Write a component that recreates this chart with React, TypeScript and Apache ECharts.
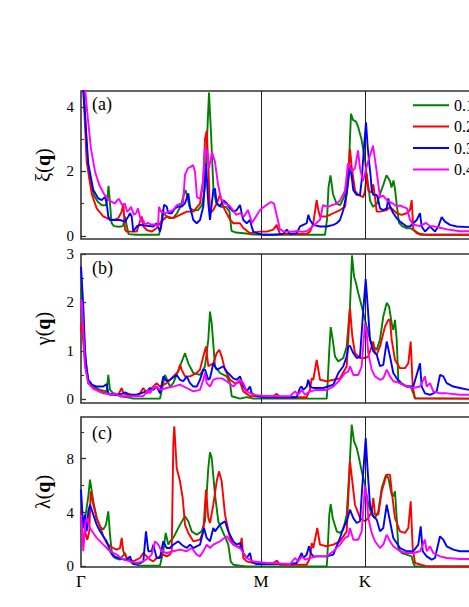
import React, { useEffect, useRef } from "react";
import * as echarts from "echarts";

// ---------- data ----------
const seriesNames = ["0.1", "0.2", "0.3", "0.4"];
const seriesColors = ["#008000", "#ff0000", "#0000ff", "#ff00ff"];

// high-symmetry points along the path (q-index units); path ends at Γ = 492 (outside the visible crop)
const xTickValues = [0, 180, 284];
const xTickLabels = ["Γ", "M", "K"];
const xMax = 492;

// panel (a) ξ(q)
const xi01 = [[0, 9], [3, 4.5], [6, 2.5], [9, 1.7], [13, 1.25], [17, 1.05], [21, 0.95], [25, 0.95], [26.5, 1.2], [27.5, 1.55], [28.5, 1.2], [30.5, 0.4], [33, 0.3], [38, 0.28], [42, 0.3], [44, 0.6], [45.5, 0.35], [47.5, 0.05], [55, 0.03], [65, 0.03], [78, 0.03], [80, 0.3], [81.5, 0.8], [84, 0.65], [88, 0.55], [92, 0.55], [96, 0.7], [100, 0.95], [103, 1.3], [104.5, 1.42], [106.5, 1.2], [109, 0.85], [113, 0.78], [117, 0.8], [121, 0.95], [124, 1.5], [126, 3.0], [128, 4.45], [130, 3.2], [132.5, 1.4], [135.5, 1.0], [140, 0.9], [145, 0.9], [148.5, 0.75], [150.5, 0.15], [155, 0.1], [165, 0.07], [172, 0.04], [185, 0.03], [244, 0.03], [246, 0.5], [247.5, 1.5], [249.5, 1.88], [252, 1.3], [255.5, 1.0], [259, 0.95], [263, 1.2], [266, 1.7], [268, 2.3], [270, 3.79], [272, 3.6], [275, 3.55], [277, 3.4], [280.5, 3.0], [284, 2.35], [286, 1.8], [288, 1.4], [289, 1.1], [292, 0.9], [296, 1.0], [299, 1.3], [302.5, 1.6], [305.5, 1.88], [309, 1.7], [310.5, 1.5], [312.5, 1.72], [314, 1.45], [316, 0.9], [318, 0.4], [321, 0.3], [326, 0.23], [330, 0.23], [335, 0.13], [339, 0.03], [388, 0.03]];
const xi02 = [[0, 9], [2, 4.8], [5.7, 2.3], [10.7, 1.3], [15.7, 0.85], [22.3, 0.6], [29, 0.5], [34, 0.5], [37.3, 0.55], [40.7, 0.75], [42.3, 1.0], [44, 0.2], [45.7, 0.13], [55.7, 0.13], [57.3, 0.29], [60.7, 0.6], [62.3, 0.29], [65.7, 0.18], [70.7, 0.13], [75.7, 0.24], [79, 0.39], [82.3, 0.5], [85.7, 0.6], [92.3, 0.55], [99, 0.65], [105.7, 0.75], [112.3, 0.75], [119, 1.0], [122.3, 1.7], [124, 3.0], [125.7, 3.27], [127.3, 2.2], [129, 0.7], [132.3, 0.8], [135.7, 1.0], [139, 1.27], [140.7, 1.1], [142.3, 0.9], [145.7, 0.7], [149, 0.5], [152.3, 0.39], [159, 0.39], [162.3, 0.24], [169, 0.08], [179, 0.13], [185.7, 0.13], [192.3, 0.19], [195.7, 0.34], [197.3, 0.19], [199, 0.06], [225.7, 0.06], [229, 0.13], [232.3, 0.39], [235.7, 1.11], [237.3, 0.8], [239, 0.6], [245.7, 0.6], [252.3, 0.7], [259, 0.8], [264, 0.9], [267.3, 1.73], [269, 2.7], [270.7, 2.14], [274, 1.4], [277.3, 1.27], [282.3, 1.2], [284, 1.4], [285.7, 1.93], [287.3, 1.4], [290.7, 1.35], [292.3, 1.6], [294, 1.2], [295.7, 0.75], [299, 0.75], [305.7, 0.8], [309, 0.9], [312.3, 0.8], [315.7, 0.7], [320.7, 0.65], [325.7, 0.7], [329, 0.8], [330.7, 1.11], [332.3, 0.19], [335.7, 0.08], [345.7, 0.03], [388, 0.03]];
const xi03 = [[0, 9], [1.7, 4.8], [7.3, 2.24], [12.3, 1.42], [17.3, 1.16], [20.7, 1.11], [24, 1.21], [25.7, 1.01], [27.3, 0.6], [29, 0.49], [32.3, 0.49], [39, 0.49], [44, 0.44], [47.3, 0.6], [49, 0.7], [50.7, 0.6], [52.3, 0.13], [55.7, 0.29], [59, 0.34], [65.7, 0.31], [72.3, 0.29], [75.7, 0.39], [79, 0.13], [81.3, 0.49], [83, 0.96], [85.7, 0.91], [87.3, 0.7], [90.7, 0.7], [94, 0.85], [97.3, 0.91], [100.7, 0.91], [104, 1.01], [107.3, 1.32], [109, 0.91], [112.3, 0.49], [115.7, 0.39], [119, 0.49], [122.3, 0.91], [125, 2.24], [127.3, 1.01], [129, 0.49], [132.3, 1.42], [134, 1.47], [135.7, 1.01], [139, 0.91], [142.3, 1.11], [145.7, 1.01], [149, 0.85], [152.3, 0.75], [155.7, 0.8], [159, 0.96], [160.7, 0.7], [162.3, 0.49], [165.7, 0.39], [169, 0.49], [170.7, 0.29], [172.3, 0.13], [175.7, 0.08], [182.3, 0.03], [192.3, 0.03], [202.3, 0.06], [205.7, 0.19], [209, 0.06], [215.7, 0.08], [219, 0.29], [222.3, 0.34], [225.7, 0.39], [227.3, 0.65], [229, 0.49], [232.3, 0.34], [239, 0.29], [245.7, 0.29], [252.3, 0.34], [255.7, 0.39], [259, 0.49], [262.3, 0.8], [265.7, 1.32], [269, 2.19], [270.7, 1.83], [272.3, 1.42], [275.7, 1.27], [279, 1.27], [280.7, 1.73], [283, 2.76], [285, 3.53], [286.7, 2.76], [288.3, 2.24], [289.7, 1.83], [290.7, 1.42], [292.3, 1.27], [295.7, 1.27], [297.3, 1.11], [299, 0.85], [302.3, 0.8], [305.7, 0.85], [307.3, 1.16], [309, 0.91], [312.3, 0.7], [315.7, 0.55], [319, 0.44], [325.7, 0.29], [329, 0.29], [332.3, 0.39], [335.7, 0.49], [339, 0.7], [340.7, 0.29], [344, 0.13], [349, 0.29], [354, 0.13], [357.3, 0.29], [360.7, 0.58], [364, 0.44], [369, 0.34], [375.7, 0.29], [388, 0.27]];
const xi04 = [[0, 9], [4, 4.6], [7, 3.6], [10, 2.7], [14, 2.0], [18, 1.6], [23, 1.3], [28, 1.1], [34, 1.0], [36, 1.1], [38, 1.15], [41, 0.95], [44, 1.0], [46, 0.75], [48, 0.8], [50, 0.9], [53, 0.65], [55, 0.7], [57, 0.85], [60, 0.45], [62, 0.5], [64, 0.35], [67, 0.4], [70, 0.35], [74, 0.35], [77, 0.3], [78, 0.9], [80, 0.75], [84, 0.7], [88, 0.75], [92, 0.8], [96, 0.95], [100, 1.0], [102, 1.0], [104, 1.9], [107, 2.1], [110, 2.15], [112, 2.2], [114, 2.0], [116, 1.2], [119, 1.15], [122, 1.7], [124, 2.75], [126, 2.6], [128, 2.1], [131, 2.6], [134, 2.3], [137, 1.6], [140, 1.15], [144, 1.0], [148, 0.95], [152, 0.8], [155, 0.65], [159, 0.7], [163, 0.6], [167, 0.8], [171, 0.4], [175, 0.6], [179, 0.8], [185, 0.95], [190, 1.05], [193, 1.0], [196, 0.6], [199, 0.2], [203, 0.13], [210, 0.13], [217, 0.15], [221, 0.12], [226, 0.15], [232, 0.3], [239, 0.5], [242, 0.95], [247, 0.9], [251, 0.95], [256, 1.0], [259, 1.1], [264, 1.4], [267, 2.25], [271, 2.0], [274, 2.1], [277, 2.65], [279, 2.1], [282, 1.7], [286, 2.2], [289, 2.5], [292, 2.8], [295, 2.15], [299, 1.2], [302, 1.25], [306, 1.1], [312, 1.0], [316, 0.9], [319, 0.95], [322, 0.9], [326, 0.85], [329, 0.5], [332, 0.35], [339, 0.3], [345, 0.4], [349, 0.3], [352, 0.3], [359, 0.25], [366, 0.2], [379, 0.14], [388, 0.14]];

// panel (b) γ(q)
const ga01 = [[0, 2.3], [0.7, 2.26], [4, 0.88], [7.3, 0.4], [12.3, 0.26], [19, 0.19], [25.7, 0.16], [27.3, 0.5], [29, 0.19], [32.3, 0.12], [39, 0.06], [45.7, 0.04], [52.3, 0.01], [79, 0.01], [84, 0.5], [89, 0.26], [92.3, 0.33], [99, 0.68], [104, 0.95], [107.3, 0.74], [112.3, 0.54], [119, 0.5], [124, 0.68], [127.3, 1.23], [129, 1.81], [130.7, 1.57], [134, 0.68], [139, 0.54], [145.7, 0.47], [149, 0.33], [150.7, 0.06], [159, 0.01], [165.7, 0.04], [172.3, 0.01], [245.7, 0.01], [246.3, 0.19], [248.3, 1.02], [249.7, 1.49], [251.7, 1.23], [254, 0.88], [257.3, 0.78], [262.3, 0.85], [265.7, 1.09], [269, 1.92], [271, 2.97], [273, 2.54], [275, 2.4], [277.3, 2.19], [280.7, 1.92], [284, 1.64], [285.7, 1.5], [289, 1.23], [292.3, 1.09], [295.7, 1.02], [299, 1.23], [302.3, 1.71], [305.7, 1.99], [308, 1.92], [310.7, 1.57], [312.3, 1.43], [314, 1.64], [315.7, 1.23], [317.3, 0.4], [320.7, 0.33], [325.7, 0.26], [329.7, 0.26], [332.3, 0.12], [334, 0.01], [388, 0.01]];
const ga02 = [[0, 1.4], [0.7, 1.57], [4, 0.74], [7.3, 0.33], [12.3, 0.23], [19, 0.16], [25.7, 0.12], [37.3, 0.09], [40.7, 0.23], [42.3, 0.12], [45.7, 0.09], [52.3, 0.06], [59, 0.12], [62.3, 0.23], [65.7, 0.12], [69, 0.19], [72.3, 0.26], [75.7, 0.33], [79, 0.26], [85.7, 0.33], [92.3, 0.47], [97.3, 0.57], [99, 0.71], [100.7, 0.61], [104, 0.47], [109, 0.47], [115.7, 0.54], [119, 0.61], [122.3, 0.88], [125, 1.09], [127.3, 0.68], [132.3, 0.74], [135.7, 0.95], [138.3, 1.02], [140.7, 0.88], [144, 0.61], [149, 0.4], [154, 0.33], [159, 0.35], [162.3, 0.16], [169, 0.06], [192.3, 0.06], [195.7, 0.11], [199, 0.04], [225.7, 0.04], [229, 0.19], [230.7, 0.43], [232.3, 0.4], [235.7, 0.81], [239, 0.4], [245.7, 0.37], [259, 0.43], [265.7, 0.68], [269, 1.88], [271.3, 1.3], [274, 0.95], [279, 0.85], [284, 0.85], [287.3, 0.88], [290.7, 1.09], [292.3, 1.19], [294, 0.95], [295.7, 0.92], [299, 1.09], [304, 1.5], [307.3, 1.64], [309, 1.64], [310.7, 1.23], [314, 0.81], [319, 0.64], [324, 0.64], [327.3, 0.74], [329.7, 1.19], [331.7, 0.26], [334, 0.02], [388, 0.01]];
const ga03 = [[0, 2.74], [2.3, 1.92], [4, 1.02], [5.7, 0.61], [7.3, 0.4], [10.7, 0.3], [15.7, 0.26], [22.3, 0.26], [25.7, 0.31], [27.3, 0.12], [29, 0.09], [35.7, 0.09], [40.7, 0.11], [44, 0.14], [47.3, 0.11], [50.7, 0.09], [55.7, 0.09], [62.3, 0.14], [65.7, 0.16], [69, 0.23], [72.3, 0.19], [75.7, 0.26], [79, 0.12], [82.3, 0.47], [85.7, 0.37], [89, 0.4], [95.7, 0.5], [99, 0.4], [102.3, 0.37], [105.7, 0.47], [109, 0.33], [112.3, 0.26], [115.7, 0.26], [119, 0.4], [122.3, 0.61], [124, 0.61], [127.3, 0.4], [129, 0.43], [132.3, 0.74], [135.7, 0.61], [139, 0.64], [142.3, 0.68], [145.7, 0.57], [149, 0.5], [152.3, 0.43], [155.7, 0.4], [159, 0.47], [162.3, 0.26], [165.7, 0.16], [169, 0.26], [170.7, 0.12], [175.7, 0.06], [185.7, 0.04], [215.7, 0.04], [219, 0.23], [220.7, 0.26], [222.3, 0.19], [225.7, 0.26], [227.3, 0.4], [229, 0.26], [232.3, 0.23], [242.3, 0.23], [252.3, 0.3], [257.3, 0.54], [262.3, 0.68], [265.7, 0.88], [267.3, 1.09], [269, 1.1], [272.3, 0.95], [275.7, 0.85], [279, 0.88], [282.3, 1.85], [284.7, 2.48], [286.7, 1.92], [289, 1.23], [292.3, 0.99], [295.7, 0.92], [299, 0.68], [302.3, 0.71], [305.7, 1.19], [309, 0.88], [312.3, 0.54], [319, 0.33], [325.7, 0.26], [332.3, 0.26], [339, 0.74], [340.7, 0.26], [344, 0.12], [349, 0.09], [352.3, 0.12], [355.7, 0.16], [359, 0.5], [362.3, 0.47], [365.7, 0.33], [372.3, 0.26], [379, 0.23], [388, 0.19]];
const ga04 = [[0, 1.9], [0.7, 2.06], [4, 0.68], [7.3, 0.33], [12.3, 0.21], [22.3, 0.12], [32.3, 0.09], [34, 0.12], [39, 0.06], [52.3, 0.06], [62.3, 0.06], [67.3, 0.19], [69, 0.12], [72.3, 0.23], [75.7, 0.26], [79, 0.19], [85.7, 0.23], [92.3, 0.26], [99, 0.3], [105.7, 0.23], [112.3, 0.16], [119, 0.19], [122.3, 0.4], [124, 0.54], [125.7, 0.33], [129, 0.26], [132.3, 0.4], [135.7, 0.43], [140.7, 0.43], [145.7, 0.37], [152.3, 0.26], [159, 0.4], [162.3, 0.33], [165.7, 0.16], [172.3, 0.09], [185.7, 0.06], [209, 0.06], [214, 0.16], [217.3, 0.09], [220.7, 0.19], [224, 0.09], [229, 0.16], [235.7, 0.19], [245.7, 0.19], [252.3, 0.26], [259, 0.4], [264, 0.54], [267.3, 0.57], [269, 0.68], [272.3, 0.5], [277.3, 0.5], [280.7, 0.68], [284, 1.57], [285.7, 1.37], [287.3, 0.95], [290.7, 0.61], [294, 0.47], [299, 0.4], [302.3, 0.43], [305.7, 0.61], [309, 0.47], [312.3, 0.37], [319, 0.33], [325.7, 0.26], [332.3, 0.23], [339, 0.26], [344, 0.47], [345.7, 0.26], [349, 0.33], [352.3, 0.16], [359, 0.12], [365.7, 0.12], [379, 0.09], [388, 0.09]];

// panel (c) λ(q)
const la01 = [[0, 2.5], [4, 3.5], [7.3, 5.2], [9, 6.44], [12.3, 4.83], [15.7, 3.59], [19, 2.97], [22.3, 2.73], [25, 3.1], [27.3, 4.09], [29, 2.35], [30.7, 1.12], [34, 0.62], [39, 0.5], [44, 0.99], [45.7, 0.62], [49, 0.37], [52.3, 0.17], [59, 0.05], [79, 0.05], [82.3, 1.12], [84.7, 2.48], [87.3, 1.61], [89, 1.86], [92.3, 2.11], [99, 3.1], [104, 3.72], [107.3, 3.35], [110.7, 2.6], [115.7, 2.35], [120.7, 2.6], [124, 3.35], [127.3, 7.31], [129, 8.48], [130.7, 8.05], [134, 5.33], [137.3, 3.35], [142.3, 2.48], [147.3, 1.61], [149.7, 0.37], [152.3, 0.12], [159, 0.05], [165.7, 0], [245.7, 0], [246.3, 0.62], [248.3, 3.84], [249.7, 4.63], [251.7, 3.59], [255.7, 2.6], [259, 2.48], [262.3, 2.73], [265.7, 3.84], [268.3, 7.06], [270.7, 10.53], [273, 9.29], [275.7, 8.8], [277.3, 8.3], [280.7, 7.06], [284, 6.07], [287.3, 4.58], [290.7, 3.84], [294, 3.59], [297.3, 4.09], [300.7, 5.82], [305, 6.8], [307.3, 6.57], [310.7, 5.33], [312.3, 5.2], [314, 5.58], [315.7, 3.59], [317.3, 1.36], [320.7, 0.99], [325.7, 0.87], [330.7, 0.74], [332.3, 0.25], [334, 0], [388, 0]];
const la02 = [[0, 4.1], [2.3, 1.61], [4, 2.6], [6.3, 1.98], [8.3, 2.6], [9.7, 5.58], [12.3, 4.58], [15.7, 3.59], [19, 2.97], [22.3, 2.23], [25.7, 1.73], [29, 1.49], [32.3, 1.36], [35.7, 1.24], [39, 1.36], [40.7, 2.11], [42.3, 1.12], [45.7, 0.62], [49, 0.5], [52.3, 0.37], [59, 0.62], [62.3, 0.99], [65.7, 0.74], [69, 0.5], [72.3, 0.37], [75.7, 0.62], [79, 0.74], [82.3, 0.87], [85.7, 0.74], [89, 0.87], [90.7, 1.12], [92.3, 9.05], [93.3, 10.41], [95.7, 7.31], [99, 6.32], [101.7, 5.08], [104, 3.1], [107.3, 2.48], [112.3, 1.86], [119, 1.98], [122.3, 2.6], [125, 5.7], [127.3, 3.59], [129, 3.22], [132.3, 4.58], [135.7, 6.32], [138, 7.06], [140.7, 6.32], [144, 3.84], [149, 2.11], [152.3, 1.61], [159, 1.36], [160.7, 2.11], [162.3, 0.62], [165.7, 0.37], [175.7, 0.17], [192.3, 0.25], [195.7, 0.42], [199, 0.12], [225.7, 0.12], [229, 0.62], [230.7, 1.73], [232.3, 1.36], [236.3, 2.85], [239, 1.61], [245.7, 1.49], [252.3, 1.61], [259, 1.86], [265.7, 2.6], [269, 7.81], [271.3, 6.32], [274, 4.58], [279, 3.59], [284, 3.35], [287.3, 3.59], [290.7, 4.09], [292.3, 5.08], [294, 3.84], [297.3, 3.84], [300.7, 5.58], [305.7, 6.82], [309, 6.82], [310.7, 5.58], [314, 3.59], [319, 2.6], [324, 2.48], [327.3, 2.85], [329.7, 4.83], [331.7, 1.36], [334, 0.25], [345.7, 0], [388, 0]];
const la03 = [[0, 5.7], [2.3, 2.85], [4, 3.84], [5.7, 2.6], [7.3, 4.09], [9, 4.58], [12.3, 3.84], [15.7, 3.1], [19, 2.6], [22.3, 2.23], [25.7, 1.86], [29, 1.12], [32.3, 0.74], [35.7, 0.67], [39, 0.57], [45.7, 0.5], [49, 0.74], [50.7, 0.37], [52.3, 0.17], [59, 0.22], [62.3, 0.37], [65, 2.6], [67.3, 1.12], [70.7, 1.12], [72.3, 1.61], [75.7, 0.62], [79, 0.62], [82.3, 1.86], [85.7, 1.36], [89, 1.36], [92.3, 1.61], [97.3, 1.86], [100.7, 1.61], [105.7, 1.36], [109, 1.61], [112.3, 1.36], [119, 1.61], [123, 2.85], [125.7, 2.11], [129, 1.86], [132.3, 2.85], [134, 2.6], [139, 3.1], [144, 3.35], [147.3, 2.6], [152.3, 1.86], [155.7, 1.61], [159, 1.73], [162.3, 0.99], [165.7, 0.62], [169, 0.99], [170.7, 0.37], [175.7, 0.17], [209, 0.17], [215.7, 0.25], [219, 0.74], [220.7, 0.99], [222.3, 0.62], [225.7, 0.87], [228, 1.49], [229.7, 0.99], [232.3, 0.74], [245.7, 0.74], [252.3, 0.87], [259, 2.11], [262.3, 2.85], [265.7, 3.35], [269, 4.21], [272.3, 3.59], [275.7, 3.22], [279, 3.35], [282.3, 7.06], [284.7, 9.54], [286.7, 7.06], [289, 4.58], [292.3, 3.72], [295.7, 3.47], [299, 2.6], [302.3, 2.85], [305.7, 4.58], [309, 3.35], [312.3, 2.11], [319, 1.36], [325.7, 1.12], [332.3, 1.12], [337.3, 1.61], [339.7, 2.97], [341.7, 1.12], [345.7, 0.74], [350.7, 0.5], [354, 0.62], [359, 2.23], [362.3, 1.98], [365.7, 1.49], [372.3, 1.24], [379, 1.12], [388, 1.12]];
const la04 = [[0, 3.84], [2.3, 1.12], [4, 3.1], [5.7, 3.59], [9, 2.85], [12.3, 2.48], [15.7, 2.11], [22.3, 1.61], [29, 1.12], [35.7, 0.87], [42.3, 0.5], [49, 0.37], [55.7, 0.25], [62.3, 0.37], [67.3, 0.62], [70.7, 0.87], [74, 1.86], [77.3, 1.61], [80.7, 1.12], [85.7, 0.99], [92.3, 1.12], [99, 1.24], [105.7, 1.12], [110.7, 1.36], [115.7, 0.87], [119, 0.74], [122.3, 1.12], [125.7, 1.61], [129, 1.36], [132.3, 1.61], [139, 1.86], [145.7, 2.23], [149, 1.86], [152.3, 1.61], [159, 1.36], [165.7, 0.62], [172.3, 0.37], [185.7, 0.25], [209, 0.17], [214, 0.62], [217.3, 0.37], [220.7, 0.74], [224, 0.5], [229, 0.62], [235.7, 0.74], [245.7, 0.74], [252.3, 1.12], [259, 1.61], [264, 2.11], [267.3, 2.23], [269, 2.85], [272.3, 1.98], [277.3, 1.98], [280.7, 2.6], [284, 5.95], [285.7, 5.08], [287.3, 3.59], [290.7, 2.48], [294, 1.86], [299, 1.36], [302.3, 1.61], [305.7, 2.35], [309, 1.86], [312.3, 1.49], [319, 1.12], [325.7, 0.99], [332.3, 0.99], [339, 1.12], [344, 1.98], [345.7, 1.12], [349, 1.49], [352.3, 0.99], [359, 0.74], [365.7, 0.62], [379, 0.55], [388, 0.55]];

// axis ranges and ticks
const yMinA = -0.1, yMaxA = 4.5, yMajorA = [0, 2, 4], yMinorA = [1, 3];
const yMinB = -0.08, yMaxB = 3, yMajorB = [0, 1, 2, 3], yMinorB = [0.5, 1.5, 2.5];
const yMinC = -0.05, yMaxC = 11.1, yMajorC = [0, 4, 8], yMinorC = [2, 6, 10];

const panels = [
  { tag: "(a)", sym: "ξ", data: [xi01, xi02, xi03, xi04], min: yMinA, max: yMaxA, major: yMajorA, minor: yMinorA },
  { tag: "(b)", sym: "γ", data: [ga01, ga02, ga03, ga04], min: yMinB, max: yMaxB, major: yMajorB, minor: yMinorB },
  { tag: "(c)", sym: "λ", data: [la01, la02, la03, la04], min: yMinC, max: yMaxC, major: yMajorC, minor: yMinorC },
];

// ---------- layout ----------
const FONT = '"Liberation Serif", "Times New Roman", serif';
const GRID_LEFT = 81;
const GRID_WIDTH = 492;
const gridBoxes = [
  { top: 91, height: 148 },
  { top: 254, height: 149 },
  { top: 417, height: 150 },
];
const tagTops = [95, 259, 424];

export default function App() {
  const ref = useRef<HTMLDivElement>(null);

  useEffect(() => {
    if (!ref.current) return;
    const chart = echarts.init(ref.current, null, { renderer: "svg" });

    const grid = panels.map((_, i) => ({
      left: GRID_LEFT,
      width: GRID_WIDTH,
      top: gridBoxes[i].top,
      height: gridBoxes[i].height,
      show: true,
      borderColor: "#333",
      borderWidth: 1.6,
      backgroundColor: "transparent",
    }));

    const xAxis = panels.map((_, i) => ({
      gridIndex: i,
      type: "value",
      min: 0,
      max: xMax,
      axisLine: { show: false },
      axisTick: { show: false },
      splitLine: { show: false },
      axisLabel:
        i === 2
          ? {
              show: true,
              customValues: xTickValues,
              formatter: (v: number) => {
                const k = xTickValues.indexOf(v);
                return k >= 0 ? xTickLabels[k] : "";
              },
              fontFamily: FONT,
              fontSize: 17,
              color: "#000",
              margin: 6,
            }
          : { show: false },
    }));

    const yAxis: any[] = [];
    panels.forEach((p, i) => {
      yAxis.push({
        gridIndex: i,
        type: "value",
        position: "left",
        min: p.min,
        max: p.max,
        axisLine: { show: false },
        splitLine: { show: false },
        axisTick: {
          show: true,
          inside: true,
          length: 5,
          customValues: p.major,
          lineStyle: { color: "#333", width: 1.3 },
        },
        axisLabel: {
          customValues: p.major,
          fontFamily: FONT,
          fontSize: 15,
          color: "#000",
          margin: 7,
        },
        name: `{n|${p.sym}(}{b|q}{n|)}`,
        nameLocation: "middle",
        nameRotate: 90,
        nameGap: 28,
        nameTextStyle: {
          rich: {
            n: { fontFamily: FONT, fontSize: 20, color: "#000" },
            b: { fontFamily: FONT, fontSize: 20, fontWeight: "bold", color: "#000" },
          },
        },
      });
      yAxis.push({
        gridIndex: i,
        type: "value",
        position: "left",
        min: p.min,
        max: p.max,
        axisLine: { show: false },
        splitLine: { show: false },
        axisLabel: { show: false },
        axisTick: {
          show: true,
          inside: true,
          length: 3,
          customValues: p.minor,
          lineStyle: { color: "#333", width: 1.1 },
        },
      });
    });

    const series: any[] = [];
    panels.forEach((p, i) => {
      p.data.forEach((d, j) => {
        const s: any = {
          type: "line",
          name: seriesNames[j],
          xAxisIndex: i,
          yAxisIndex: 2 * i,
          data: d,
          showSymbol: false,
          symbol: "none",
          clip: true,
          lineStyle: { color: seriesColors[j], width: 1.9 },
          itemStyle: { color: seriesColors[j] },
          z: 3 + j,
        };
        if (j === 0) {
          s.markLine = {
            silent: true,
            symbol: ["none", "none"],
            label: { show: false },
            lineStyle: { color: "#222", width: 1, type: "solid" },
            data: [{ xAxis: xTickValues[1] }, { xAxis: xTickValues[2] }],
          };
        }
        series.push(s);
      });
    });

    chart.setOption({
      animation: false,
      backgroundColor: "#fff",
      grid,
      xAxis,
      yAxis,
      legend: {
        data: seriesNames,
        orient: "vertical",
        left: 413,
        top: 94.5,
        padding: 0,
        itemGap: 0,
        itemWidth: 36,
        itemHeight: 2,
        icon: "rect",
        selectedMode: false,
        textStyle: { fontFamily: FONT, fontSize: 16, lineHeight: 21.4, color: "#000" },
      },
      graphic: panels.map((p, i) => ({
        type: "text",
        left: 92,
        top: tagTops[i],
        style: { text: p.tag, font: `18px ${FONT}`, fill: "#000" },
      })),
      series,
    });

    return () => chart.dispose();
  }, []);

  return (
    <div
      style={{
        position: "absolute",
        left: 0,
        top: 0,
        width: 469,
        height: 607,
        overflow: "hidden",
        background: "#fff",
      }}
    >
      <div ref={ref} style={{ width: 600, height: 607 }} />
    </div>
  );
}
